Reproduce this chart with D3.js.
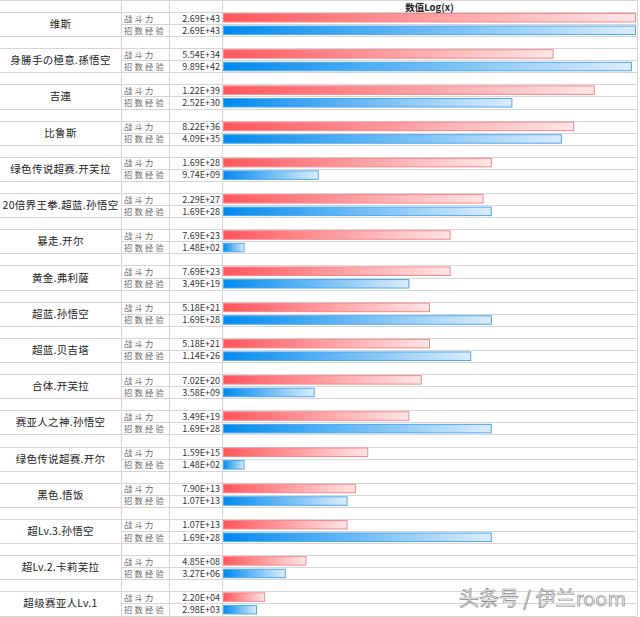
<!DOCTYPE html>
<meta charset="utf-8">
<script src="https://d3js.org/d3.v7.min.js"></script>
<style>
  body { margin: 0; background: #fff; }
  text { font-family: "Noto Sans CJK SC", sans-serif; }
</style>
<body>
<div id="my_dataviz"></div>
<script>

// characters, top to bottom
var names = ["维斯", "身勝手の極意.孫悟空", "吉連", "比鲁斯", "绿色传说超赛.开芙拉",
  "20倍界王拳.超蓝.孙悟空", "暴走.开尔", "黄金.弗利薩", "超蓝.孙悟空", "超蓝.贝吉塔",
  "合体.开芙拉", "赛亚人之神.孙悟空", "绿色传说超赛.开尔", "黑色.悟饭", "超Lv.3.孙悟空",
  "超Lv.2.卡莉芙拉", "超级赛亚人Lv.1"];

var seriesLabels = ["战斗力", "招数经验"];

// 战斗力
var power = [2.69e43, 5.54e34, 1.22e39, 8.22e36, 1.69e28, 2.29e27, 7.69e23, 7.69e23,
  5.18e21, 5.18e21, 7.02e20, 3.49e19, 1.59e15, 7.90e13, 1.07e13, 4.85e8, 2.20e4];

// 招数经验
var skill = [2.69e43, 9.89e42, 2.52e30, 4.09e35, 9.74e9, 1.69e28, 1.48e2, 3.49e19,
  1.69e28, 1.14e26, 3.58e9, 1.69e28, 1.48e2, 1.07e13, 1.69e28, 3.27e6, 2.98e3];

var header = "数值Log(x)";

var width = 640, height = 617;
var colName = 121, colLabel = 169, colValue = 222, colEnd = 637;
var headerH = 12, rowH = 12.07;

var svg = d3.select("#my_dataviz")
  .append("svg")
  .attr("width", width)
  .attr("height", height);

// excel style format 2.69E+43
function fmt(v) {
  var s = v.toExponential(2).split("e");
  var e = +s[1];
  return s[0] + "E" + (e < 0 ? "-" : "+") + (Math.abs(e) < 10 ? "0" : "") + Math.abs(e);
}

var y = d3.scaleLinear()
  .domain([0, names.length])
  .range([headerH, headerH + names.length * rowH * 3]);

var allLogs = power.concat(skill).map(function(d) { return Math.log10(d); });
var x = d3.scaleLinear()
  .domain([0, d3.max(allLogs)])
  .range([colValue + 1, colEnd - 2]);

// gradients
var defs = svg.append("defs");
function grad(id, c0, c1) {
  var g = defs.append("linearGradient").attr("id", id);
  g.append("stop").attr("offset", "0%").attr("stop-color", c0);
  g.append("stop").attr("offset", "100%").attr("stop-color", c1);
}
grad("gRed", "#ff555a", "#ffe6e7");
grad("gBlue", "#008aef", "#dcedfc");

// grid
var grid = svg.append("g").attr("stroke", "#d6d6d6").attr("stroke-width", 1).attr("shape-rendering", "crispEdges");
grid.append("line").attr("x1", 0).attr("x2", colEnd).attr("y1", 0.5).attr("y2", 0.5);
names.forEach(function(n, i) {
  var t = Math.round(y(i)) + 0.5;
  grid.append("line").attr("x1", 0).attr("x2", colEnd).attr("y1", t).attr("y2", t);
  var m = Math.round(y(i) + rowH) + 0.5;
  grid.append("line").attr("x1", colName).attr("x2", colEnd).attr("y1", m).attr("y2", m);
  var b = Math.round(y(i) + rowH * 2) + 0.5;
  grid.append("line").attr("x1", 0).attr("x2", colEnd).attr("y1", b).attr("y2", b);
});
var bottom = Math.round(y(names.length - 1) + rowH * 2);
[colName, colLabel, colValue, colEnd].forEach(function(c) {
  grid.append("line").attr("x1", c + 0.5).attr("x2", c + 0.5).attr("y1", 0).attr("y2", bottom);
});

// header
svg.append("text")
  .attr("x", (colValue + colEnd) / 2)
  .attr("y", 10.5)
  .attr("text-anchor", "middle")
  .attr("font-size", 9.5)
  .attr("font-weight", "bold")
  .attr("fill", "#222")
  .text(header);

// names
svg.append("g").selectAll("text")
  .data(names)
  .enter()
  .append("text")
  .attr("x", colName / 2)
  .attr("y", function(d, i) { return y(i) + rowH + 4; })
  .attr("text-anchor", "middle")
  .attr("font-size", 10.5)
  .attr("letter-spacing", 0.3)
  .attr("fill", "#222")
  .text(function(d) { return d; });

// series rows
var series = [
  { label: seriesLabels[0], values: power, fill: "url(#gRed)", stroke: "#f5878a", off: 0 },
  { label: seriesLabels[1], values: skill, fill: "url(#gBlue)", stroke: "#4ea6ec", off: 1 }
];

series.forEach(function(s) {
  var g = svg.append("g");
  g.selectAll("text.lab")
    .data(s.values)
    .enter()
    .append("text")
    .attr("class", "lab")
    .attr("x", colName + 3)
    .attr("y", function(d, i) { return y(i) + rowH * s.off + 9.5; })
    .attr("font-size", 8.3)
    .attr("letter-spacing", 2.2)
    .attr("fill", "#666")
    .text(s.label);

  g.selectAll("text.val")
    .data(s.values)
    .enter()
    .append("text")
    .attr("class", "val")
    .attr("x", colValue - 2)
    .attr("y", function(d, i) { return y(i) + rowH * s.off + 9.5; })
    .attr("text-anchor", "end")
    .attr("font-family", "Liberation Mono, monospace")
    .attr("font-size", 9)
    .attr("fill", "#333")
    .text(function(d) { return fmt(d); });

  g.selectAll("rect")
    .data(s.values)
    .enter()
    .append("rect")
    .attr("x", x(0) + 0.5)
    .attr("y", function(d, i) { return y(i) + rowH * s.off + 1.5 + s.off * 0.5; })
    .attr("width", function(d) { return x(Math.log10(d)) - x(0); })
    .attr("height", 8.5)
    .attr("fill", s.fill)
    .attr("stroke", s.stroke)
    .attr("stroke-width", 1);
});

// watermark
svg.append("text")
  .attr("x", 626)
  .attr("y", 606)
  .attr("text-anchor", "end")
  .attr("font-size", 20)
  .attr("fill", "#fafafa")
  .attr("stroke", "#8a8a8a")
  .attr("stroke-width", 0.7)
  .text("头条号 / 伊兰room");

</script>
</body>
